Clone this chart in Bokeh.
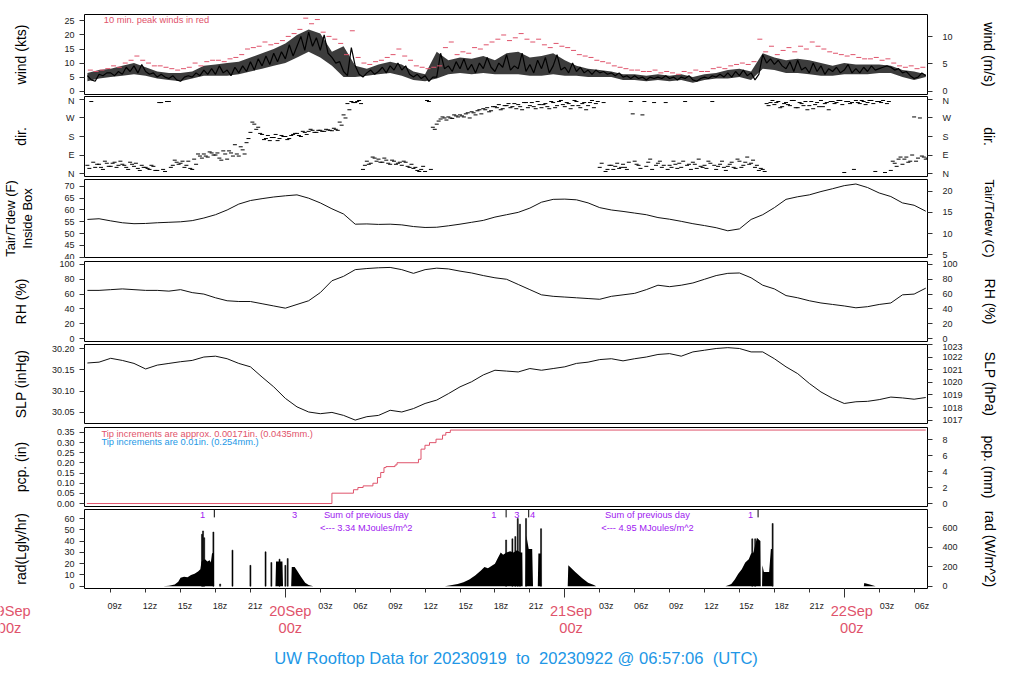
import numpy as np
from bokeh.plotting import figure
from bokeh.models import Range1d, LinearAxis, FixedTicker, PrintfTickFormatter
from bokeh.layouts import column
from bokeh.embed import file_html
from bokeh.resources import INLINE
from bokeh.core.properties import value

FONT = "Liberation Sans"
RED = "#DF536B"
BLUE = "#2297E6"
PURPLE = "#A020F0"

# ---------------- data (time = hours since 2023-09-19 00z) ----------------
# wind speed (kts), every 20 min from 07z 19Sep
wind_kts = [
    5.5, 4.0, 3.5,   6.0, 5.5, 6.5,   6.5, 5.5, 7.0,   6.0, 8.5, 7.0,
    9.0, 6.5, 9.5,   7.0, 6.0, 6.5,   5.0, 6.0, 5.0,   4.5, 5.5, 4.0,
    3.5, 5.0, 5.5,   5.0, 6.5, 5.5,   7.5, 6.0, 8.0,   6.0, 9.0, 6.5,
    7.5, 5.5, 8.5,   6.5, 9.0, 7.0,   10.5, 7.5, 11.5, 9.0, 12.5, 9.5,
    13.5, 10.5, 14.0, 11.5, 16.5, 12.5, 16.0, 19.5, 14.5, 21.0, 16.0, 19.0,
    14.5, 20.0, 13.5, 12.0, 10.0, 10.5, 7.0, 5.5, 15.5, 9.0, 6.0, 5.0,
    6.5, 7.5, 6.0,   7.0, 8.5, 6.5,   9.0, 7.5, 10.0,  7.5, 9.0, 6.0,
    5.0, 6.0, 4.5,   5.5, 3.5, 5.0,   5.0, 13.5, 8.0,  9.0, 7.0, 10.5,
    8.0, 11.5, 7.5,  9.5, 6.5, 10.0,  8.0, 12.0, 8.5,  7.0, 10.0, 8.5,
    13.0, 7.5, 9.0,  8.0, 13.5, 7.0,  9.5, 6.5, 11.0,  8.0, 12.0, 6.5,
    9.0, 13.0, 7.5,  8.5, 6.5, 10.0,  7.0, 8.5, 6.5,   7.5, 6.0, 7.5,
    6.5, 7.0, 6.0,   6.5, 5.5, 6.5,   5.0, 5.5, 4.5,   5.5, 4.5, 5.0,
    4.0, 5.0, 4.5,   5.0, 4.5, 5.5,   4.5, 5.0, 4.0,   5.0, 4.5, 5.5,
    4.0, 3.5, 4.5,   5.0, 4.5, 5.5,   5.0, 6.0, 5.0,   6.5, 5.0, 7.0,
    5.5, 7.5, 5.5,   6.5, 4.0, 6.0,   13.0, 10.0, 11.5, 9.5, 11.0, 9.0,
    8.0, 10.5, 7.0,  11.0, 7.5, 8.5,  6.5, 10.0, 7.0,  9.0, 6.0, 8.0,
    7.0, 8.5, 6.5,   7.5, 9.5, 6.5,   8.0, 6.5, 8.5,   7.0, 9.0, 7.5,
    8.0, 8.5, 9.0,   8.5, 7.5, 8.0,   6.5, 7.0, 5.5,   4.5, 5.0, 6.5,
    5.5,
]
# hourly envelope of the 1-min wind trace (kts), 07z 19Sep .. 07z 22Sep
wind_lo_kts = [
    3.5, 4.5, 5.0, 5.5, 6.0, 5.5, 4.5, 4.0, 3.5, 4.5, 5.5, 5.5,
    5.5, 6.0, 7.0, 8.0, 9.0, 10.0, 12.0, 14.0, 12.0, 9.0, 5.0, 5.0,
    5.5, 6.0, 6.5, 5.5, 4.0, 3.5, 4.5, 6.0, 6.5, 6.0, 6.5, 6.0,
    6.0, 6.0, 5.5, 5.5, 6.0, 5.5, 5.5, 5.0, 5.0, 5.0, 4.0, 4.0,
    3.5, 4.0, 3.5, 4.0, 3.0, 4.0, 4.5, 4.5, 5.0, 4.0, 8.0, 7.5,
    6.5, 6.5, 6.0, 5.5, 5.5, 6.0, 6.0, 6.0, 6.5, 6.5, 5.0, 4.0,
    5.0,
]
wind_hi_kts = [
    6.5, 7.5, 8.0, 9.0, 10.0, 8.5, 7.0, 6.5, 6.5, 7.0, 9.0, 9.5,
    10.0, 10.5, 12.0, 13.5, 15.0, 17.0, 20.0, 22.0, 20.5, 14.0, 16.0, 9.0,
    8.0, 9.5, 10.5, 9.5, 7.0, 6.0, 14.0, 11.0, 12.0, 11.5, 12.5, 11.0,
    13.5, 14.0, 12.0, 12.5, 13.5, 11.0, 9.0, 8.0, 7.5, 7.0, 6.0, 6.0,
    5.5, 6.0, 5.5, 6.0, 5.0, 6.0, 6.5, 7.5, 8.0, 7.0, 13.5, 12.0,
    11.0, 11.5, 11.0, 10.0, 9.0, 10.0, 9.5, 9.5, 9.5, 9.0, 7.5, 7.0,
    6.0,
]
# 10-min peak winds (kts), every 30 min from 07:15z
gust_kts = [
    7.5, 7.0, 7.5, 8.0, 9.0, 8.5, 10.0, 11.0, 12.5, 11.0, 10.0, 9.0,
    9.0, 8.5, 8.0, 7.5, 8.0, 8.5, 10.0, 9.0, 10.5, 11.0, 11.0, 10.5,
    11.5, 12.0, 13.0, 15.0, 15.5, 16.0, 17.5, 16.5, 17.0, 18.0, 19.5, 20.5,
    22.0, 26.0, 24.0, 25.5, 21.0, 19.5, 18.5, 17.0, 13.0, 21.5, 12.0, 10.0,
    9.5, 10.5, 11.0, 12.0, 13.0, 15.0, 12.5, 11.0, 9.0, 8.5, 8.0, 8.5,
    9.0, 15.5, 17.5, 13.0, 14.0, 13.5, 15.5, 15.0, 16.5, 17.5, 18.5, 20.0,
    18.0, 19.0, 20.5, 18.5, 17.5, 18.5, 16.5, 15.5, 17.0, 16.0, 15.5, 14.5,
    13.0, 12.5, 12.0, 11.0, 10.5, 10.0, 9.0, 8.5, 8.0, 7.5, 7.5, 7.0,
    7.0, 7.5, 6.5, 7.0, 6.5, 6.0, 7.0, 6.5, 7.5, 7.0, 7.0, 8.0,
    8.5, 8.0, 9.0, 9.5, 10.0, 9.5, 10.5, 18.5, 14.0, 16.0, 13.0, 14.5,
    15.5, 14.0, 16.0, 15.0, 17.5, 16.0, 15.0, 14.0, 13.5, 13.0, 12.5, 13.0,
    12.0, 11.5, 11.5, 12.0, 11.0, 11.5, 10.0, 9.0, 8.5, 9.0, 8.0, 8.5,
]
# wind direction (deg), every 20 min from 07z
wind_dir = [
    40, 350, 30,   45, 20, 50,    35, 55, 40,    45, 30, 55,
    35, 25, 40,    30, 20, 35,    15, 345, 10,   350, 40, 55,
    50, 30, 60,    20, 45, 85,    95, 80, 100,   90, 75, 110,
    70, 100, 140,  85, 115, 150,  200, 240, 225, 190, 170, 160,
    175, 160, 185, 180, 170, 190, 195, 180, 200, 205, 210, 200,
    210, 205, 212, 208, 215, 250, 285, 340, 350, 345, 355, 20,
    60, 50, 75,    70, 55, 65,    45, 60, 50,    40, 55, 30,
    25, 15, 20,    10, 350, 225,  240, 265, 270, 275, 268, 280,
    285, 275, 295, 300, 285, 310, 315, 320, 305, 325, 335, 315,
    330, 320, 340, 335, 310, 345, 330, 325, 350, 320, 340, 315,
    345, 330, 355, 325, 340, 330, 350, 320, 345, 330, 355, 340,
    30, 345, 20,   40, 35, 25,    45, 20, 350,   60, 40, 285,
    35, 70, 345,   50, 30, 345,   40, 60, 25,    30, 350, 45,
    55, 25, 35,    40, 60, 350,   20, 45, 30,    35, 55, 25,
    60, 40, 80,    50, 30, 15,    20, 340, 345,  335, 350, 325,
    345, 330, 355, 320, 340, 350, 330, 315, 345, 355, 340, 310,
    350, 345, 355, 5, 350, 345,   355, 340, 350, 345, 355, 10,
    350, 355, 340, 15, 50, 70,    45, 80, 60,    275, 75, 85,
    70,
]
# second set of direction readings, every 20 min from 07:10z
wind_dir_b = [
    25, 55, 45,    30, 60, 35,    50, 30, 60,    40, 20, 45,
    50, 15, 30,    25, 40, 15,    345, 20, 350,  30, 65, 45,
    60, 40, 25,    70, 95, 75,    85, 105, 90,   100, 65, 95,
    110, 85, 95,   130, 95, 170,  250, 215, 195, 165, 185, 175,
    190, 170, 180, 165, 185, 195, 185, 205, 190, 215, 200, 210,
    205, 215, 210, 220, 210, 235, 270, 310, 345, 350, 340, 40,
    45, 80, 60,    55, 75, 50,    65, 45, 55,    60, 35, 45,
    30, 10, 35,    355, 20, 215,  255, 275, 260, 270, 285, 275,
    280, 290, 270, 295, 305, 290, 310, 300, 325, 320, 310, 330,
    340, 325, 315, 325, 345, 320, 345, 315, 335, 335, 325, 350,
    320, 350, 335, 345, 315, 355, 330, 340, 310, 345, 320, 350,
    50, 10, 40,    20, 50, 30,    30, 55, 290,   45, 25, 350,
    55, 20, 40,    60, 40, 20,    30, 45, 50,    60, 40, 20,
    45, 70, 30,    25, 50, 40,    35, 60, 15,    45, 30, 70,
    30, 55, 45,    65, 40, 25,    10, 330, 355,  345, 320, 340,
    335, 355, 320, 345, 330, 310, 350, 335, 325, 325, 345, 350,
    340, 355, 335, 350, 340, 20,  345, 355, 335, 355, 340, 350,
    345, 5, 350,   60, 35, 80,    70, 55, 90,    60, 270, 80,
    75,
]
# hourly values from 07z 19Sep to 07z 22Sep
temp_f = [
    56.0, 56.3, 55.4, 54.6, 54.2, 54.3,
    54.6, 54.8, 55.0, 55.5, 56.6, 58.0,
    60.0, 62.5, 64.0, 64.8, 65.5, 66.0,
    66.4, 65.0, 63.0, 60.5, 58.3, 54.0,
    54.1, 53.9, 54.0, 53.7, 53.0, 52.6,
    52.7, 53.3, 54.0, 54.8, 55.6, 57.0,
    58.0, 59.0, 60.8, 63.3, 64.5, 64.6,
    64.3, 63.0, 61.0, 60.0, 59.4, 58.7,
    58.0, 56.8, 56.1, 55.2, 54.2, 53.4,
    52.5, 51.2, 52.0, 56.0, 58.0, 61.0,
    64.5, 65.6, 66.4, 67.8, 69.0, 70.3,
    71.0, 69.5, 67.2, 65.7, 63.0, 62.0,
    59.5,
]
rh_pct = [
    65, 65, 66, 67, 66, 65,
    65, 64, 66, 62, 60, 55,
    51, 50, 50, 47, 44, 41,
    46, 51, 62, 78, 84, 93,
    94.5, 95.5, 96, 93, 88, 93,
    95, 94, 91, 88.5, 85, 82,
    80, 73, 66, 59, 57, 56,
    55, 54, 53, 57, 59, 61,
    66, 72, 70, 72, 75, 80,
    85, 88, 88.5, 82, 72, 67,
    58, 55, 51, 48, 46, 44,
    41.5, 43, 46, 48, 59, 60,
    68,
]
slp_inhg = [
    30.166, 30.168, 30.177, 30.172, 30.165, 30.152,
    30.161, 30.165, 30.169, 30.172, 30.180, 30.182,
    30.176, 30.165, 30.157, 30.133, 30.110, 30.083,
    30.063, 30.051, 30.047, 30.050, 30.043, 30.032,
    30.040, 30.043, 30.055, 30.051, 30.059, 30.071,
    30.079, 30.094, 30.110, 30.122, 30.138, 30.149,
    30.147, 30.145, 30.153, 30.149, 30.153, 30.157,
    30.165, 30.168, 30.174, 30.176, 30.171, 30.176,
    30.180, 30.186, 30.188, 30.182, 30.192, 30.196,
    30.200, 30.202, 30.200, 30.192, 30.192, 30.176,
    30.157, 30.141, 30.118, 30.098, 30.083, 30.071,
    30.075, 30.076, 30.080, 30.086, 30.084, 30.081,
    30.085,
]
# accumulated precipitation (hour, inches)
pcp_points = [
    (6.95, 0.0), (28.0, 0.051), (29.85, 0.068), (30.23, 0.079), (30.68, 0.087),
    (31.52, 0.10), (31.91, 0.128), (32.19, 0.153), (32.47, 0.177), (32.64, 0.182),
    (33.42, 0.19), (33.59, 0.201), (35.43, 0.218), (35.65, 0.268), (35.99, 0.287),
    (36.38, 0.30), (36.94, 0.317), (37.5, 0.337), (37.78, 0.35), (38.17, 0.362),
    (79.0, 0.362),
]
# solar radiation (hour, Langley/hr): broad parts
rad_points = [
    (13.5, 0), (14.0, 0.5), (14.5, 1.5), (14.8, 4), (15.0, 7.5), (15.3, 8.5),
    (15.6, 8), (15.9, 10), (16.2, 11), (16.5, 13), (16.7, 15), (16.8, 22),
    (17.1, 24), (17.3, 22), (17.5, 23), (17.6, 21), (17.7, 29), (17.85, 30),
    (17.88, 0),
    (23.15, 0), (23.2, 22), (23.75, 22), (23.8, 0), (24.5, 0), (24.55, 17),
    (24.8, 17), (25.0, 14), (25.3, 9), (25.7, 3), (26.0, 1), (26.4, 0),
    (37.7, 0), (38.2, 0.8), (38.8, 2), (39.3, 3.5), (39.8, 6), (40.3, 9.5),
    (40.8, 14), (41.1, 17), (41.4, 16), (41.7, 18), (42.0, 20), (42.25, 25),
    (42.5, 30), (42.7, 28), (43.0, 30), (43.3, 31), (43.6, 30), (43.9, 32),
    (44.2, 30), (44.35, 30), (44.38, 0), (44.62, 0), (44.7, 45), (44.9, 33),
    (45.2, 33), (45.27, 0), (45.68, 0), (45.73, 29), (45.95, 29), (45.98, 0),
    (48.25, 0), (48.3, 18.5), (48.9, 12.7), (49.5, 7), (50.0, 3), (50.5, 1),
    (50.7, 0),
    (61.8, 0), (62.1, 1), (62.3, 2), (62.6, 6), (62.9, 11), (63.2, 15),
    (63.5, 21), (63.8, 24), (64.0, 29), (64.2, 30), (64.5, 43), (64.7, 41),
    (64.8, 40), (64.83, 0), (64.94, 0), (64.97, 18.5), (65.1, 12.7),
    (65.55, 12.7), (65.7, 33), (65.8, 33), (65.83, 0),
    (73.68, 0), (73.72, 2.8), (74.2, 1.5), (74.7, 0),
]
# solar radiation: narrow spikes (hour, Langley/hr)
rad_spikes = [
    (16.84, 46), (16.93, 49), (17.03, 43), (17.82, 48), (18.4, 2), (19.46, 32),
    (21.0, 18.5), (22.3, 30.5), (22.8, 21), (23.5, 24), (24.0, 18.5),
    (24.2, 24.5), (42.96, 41), (43.5, 42), (43.75, 44), (43.96, 60),
    (44.15, 55), (44.67, 60), (45.96, 51), (64.1, 42), (64.35, 42),
    (65.85, 55.6),
]
rad_note_hours = [16.9, 24.8, 41.9, 43.87, 45.24, 63.96]
rad_note_text = ["1", "3", "1", "3", "4", "1"]
rad_mark_hours = [17.9, 42.96, 44.9, 64.6]
daily_sum_hours = [30.95, 55.1]
daily_sum_text = ["<--- 3.34 MJoules/m^2", "<--- 4.95 MJoules/m^2"]

tick_hours = [9, 12, 15, 18, 21, 24, 27, 30, 33, 36, 39, 42, 45, 48,
              51, 54, 57, 60, 63, 66, 69, 72, 75, 78]
tick_labels = ["09z", "12z", "15z", "18z", "21z", "", "03z", "06z", "09z",
               "12z", "15z", "18z", "21z", "", "03z", "06z", "09z", "12z",
               "15z", "18z", "21z", "", "03z", "06z"]
day_hours = [0, 24, 48, 72]
day_labels = ["19Sep", "20Sep", "21Sep", "22Sep"]
NB2 = "\u00a0 "
title_text = ("UW Rooftop Data for 20230919" + NB2 + "to" + NB2 + "20230922 @ 06:57:06"
              + NB2 + "(UTC)")

# ---------------- derived time axes ----------------
t_wind = 7 + np.arange(len(wind_kts)) / 3.0
t_band = 7 + np.arange(len(wind_lo_kts))
t_gust = 7.25 + np.arange(len(gust_kts)) * 0.5
t_dir = 7 + np.arange(len(wind_dir)) / 3.0
t_dir_b = 7 + 1.0 / 6 + np.arange(len(wind_dir_b)) / 3.0
t_hr = 7 + np.arange(len(temp_f))
pcp_t = [a for a, b in pcp_points]
pcp_v = [b for a, b in pcp_points]
rad_t = [a for a, b in rad_points]
rad_v = [b for a, b in rad_points]
spk_t = [a for a, b in rad_spikes]
spk_v = [b for a, b in rad_spikes]

W = 1008
LEFT, RIGHT = 80, 81
xr = Range1d(6.75, 79.15)


def style_axis(ax, ticks, label, label_standoff, tick_standoff, fmt=None,
               overrides=None, label_size="14px"):
    ax.ticker = FixedTicker(ticks=ticks)
    ax.axis_label = label
    ax.axis_label_standoff = label_standoff
    ax.axis_label_text_font = FONT
    ax.axis_label_text_font_size = label_size
    ax.axis_label_text_font_style = "normal"
    ax.axis_label_text_color = "black"
    ax.major_label_text_font = FONT
    ax.major_label_text_font_size = "9px"
    ax.major_label_text_color = "#222222"
    ax.major_label_standoff = tick_standoff
    ax.major_tick_out = 5
    ax.major_tick_in = 0
    ax.minor_tick_out = 0
    ax.minor_tick_in = 0
    ax.axis_line_color = None
    ax.major_tick_line_color = "#333333"
    if fmt:
        ax.formatter = PrintfTickFormatter(format=fmt)
    if overrides:
        ax.major_label_overrides = overrides


def panel(height, top, bottom, yr, yr_right, x_axis=False):
    p = figure(width=W, height=height, x_range=xr, y_range=Range1d(*yr),
               output_backend="svg", toolbar_location=None,
               x_axis_location="below" if x_axis else None,
               min_border_left=LEFT, min_border_right=RIGHT,
               min_border_top=top, min_border_bottom=bottom)
    p.grid.visible = False
    p.outline_line_color = "black"
    p.outline_line_width = 1
    p.outline_line_alpha = 1
    p.background_fill_color = "white"
    p.border_fill_color = "white"
    p.extra_y_ranges = {"r": Range1d(*yr_right)}
    ax = LinearAxis(y_range_name="r")
    p.add_layout(ax, "right")
    return p, p.left[0], ax


KT2MS = 0.514444
# ---- wind ----
wy = (-1.2, 27.3)
p1, l1, r1 = panel(95, 14, 1, wy, (wy[0] * KT2MS, wy[1] * KT2MS))
style_axis(l1, [0, 5, 10, 15, 20, 25], "wind (kts)", 32, 5)
style_axis(r1, [0, 5, 10], "wind (m/s)", 25, 10)
p1.varea(x=t_band, y1=wind_lo_kts, y2=wind_hi_kts, fill_color="#111111", fill_alpha=0.82)
p1.line(t_wind, wind_kts, color="black", line_width=1.2)
p1.scatter(t_gust, gust_kts, marker="dash", size=5, line_color=RED, line_width=1)
p1.text(x=[8.4], y=[25.2], text=["10 min. peak winds in red"], text_color=RED,
        text_font=value(FONT), text_font_size="9.3px", text_align="left",
        text_baseline="middle")

# ---- direction ----
compass = {0: "N", 90: "E", 180: "S", 270: "W", 360: "N"}
p2, l2, r2 = panel(83, 1, 2, (-14.4, 374.4), (-14.4, 374.4))
style_axis(l2, [0, 90, 180, 270, 360], "dir.", 34, 5, overrides=compass)
style_axis(r2, [0, 90, 180, 270, 360], "dir.", 27, 10, overrides=compass)
p2.scatter(t_dir, wind_dir, marker="dash", size=4, line_color="black", line_width=1)
p2.scatter(t_dir_b, wind_dir_b, marker="dash", size=4, line_color="black", line_width=1)

# ---- temperature ----
ty = (39.9, 72.9)
p3, l3, r3 = panel(81, 1, 2, ty, ((ty[0] - 32) / 1.8, (ty[1] - 32) / 1.8))
style_axis(l3, [40, 45, 50, 55, 60, 65, 70], "Tair/Tdew (F)\nInside Box", 26, 5,
           label_size="13px")
l3.axis_label_text_line_height = 1.15
style_axis(r3, [5, 10, 15, 20], "Tair/Tdew (C)", 26, 10, label_size="13px")
p3.line(t_hr, temp_f, color="#111111", line_width=1)

# ---- RH ----
p4, l4, r4 = panel(84, 2, 2, (-4, 104), (-4, 104))
style_axis(l4, [0, 20, 40, 60, 80, 100], "RH (%)", 27, 5)
style_axis(r4, [0, 20, 40, 60, 80, 100], "RH (%)", 21, 10)
p4.line(t_hr, rh_pct, color="#111111", line_width=1)

# ---- SLP ----
sy = (30.024, 30.2094)
p5, l5, r5 = panel(82, 1, 2, sy, (sy[0] * 33.8639, sy[1] * 33.8639))
style_axis(l5, [30.05, 30.10, 30.15, 30.20], "SLP (inHg)", 20, 5, fmt="%.2f")
style_axis(r5, [1017, 1018, 1019, 1020, 1021, 1022, 1023], "SLP (hPa)", 16, 10)
p5.line(t_hr, slp_inhg, color="#111111", line_width=1)

# ---- precipitation ----
py = (-0.0146, 0.3746)
p6, l6, r6 = panel(83, 2, 2, py, (py[0] * 25.4, py[1] * 25.4))
style_axis(l6, [0, 0.05, 0.10, 0.15, 0.20, 0.25, 0.30, 0.35], "pcp. (in)", 25, 5, fmt="%.2f")
style_axis(r6, [0, 2, 4, 6, 8], "pcp. (mm)", 30, 10)
p6.step(pcp_t, pcp_v, mode="after", color=RED, line_width=1)
p6.text(x=[8.2], y=[0.345], text=["Tip increments are approx. 0.00171in. (0.0435mm.)"],
        text_color=RED, text_font=value(FONT), text_font_size="9.3px",
        text_align="left", text_baseline="middle")
p6.text(x=[8.2], y=[0.301], text=["Tip increments are 0.01in. (0.254mm.)"],
        text_color=BLUE, text_font=value(FONT), text_font_size="9.3px",
        text_align="left", text_baseline="middle")

# ---- radiation ----
LY2W = 11.622
ry = (-2.0, 68.0)
p7, l7, r7 = panel(92, 1, 12, ry, (ry[0] * LY2W, ry[1] * LY2W), x_axis=True)
style_axis(l7, [0, 10, 20, 30, 40, 50, 60], "rad(Lgly/hr)", 32, 5)
style_axis(r7, [0, 200, 400, 600], "rad (W/m^2)", 21, 10)
p7.varea(x=rad_t, y1=0, y2=rad_v, fill_color="black")
p7.vbar(x=spk_t, top=spk_v, bottom=0, width=0.09, fill_color="black", line_color="black",
        line_width=0.5)
p7.segment(x0=rad_mark_hours, y0=61, x1=rad_mark_hours, y1=68, line_color="black", line_width=1)
p7.text(x=rad_note_hours, y=[62.7] * len(rad_note_hours), text=rad_note_text,
        text_color=PURPLE, text_font=value(FONT), text_font_size="9.3px",
        text_align="center", text_baseline="middle")
p7.text(x=daily_sum_hours, y=[62.7] * 2, text=["Sum of previous day"] * 2,
        text_color=PURPLE, text_font=value(FONT), text_font_size="9.3px",
        text_align="center", text_baseline="middle")
p7.text(x=daily_sum_hours, y=[52.0] * 2, text=daily_sum_text,
        text_color=PURPLE, text_font=value(FONT), text_font_size="9.3px",
        text_align="center", text_baseline="middle")

xa = p7.below[0]
xa.ticker = FixedTicker(ticks=tick_hours, minor_ticks=day_hours)
xa.major_label_overrides = {h: "" for h in tick_hours}
xa.major_label_text_font_size = "1px"
xa.major_label_standoff = 0
xa.major_tick_out = 4
xa.major_tick_in = 0
xa.minor_tick_out = 9
xa.minor_tick_in = 0
xa.axis_line_color = None
xa.major_tick_line_color = "#333333"
xa.minor_tick_line_color = "#333333"

# ---- time labels and title strip (separate root on the same time scale) ----
SHIFT = 8  # this root sits 8px further left on the page than the panel column
px_per_h = (W - LEFT - RIGHT) / (xr.end - xr.start)
xr_strip = Range1d(xr.start - (LEFT + SHIFT) / px_per_h,
                   xr.end + (RIGHT - SHIFT) / px_per_h)
p8 = figure(width=W, height=80, x_range=xr_strip, y_range=Range1d(80, 0),
            output_backend="svg", toolbar_location=None,
            x_axis_location=None, y_axis_location=None,
            min_border_left=0, min_border_right=0, min_border_top=0, min_border_bottom=0)
p8.grid.visible = False
p8.outline_line_color = None
p8.background_fill_color = "white"
p8.border_fill_color = "white"
lab_h = [h for h, t in zip(tick_hours, tick_labels) if t]
lab_t = [t for t in tick_labels if t]
p8.text(x=lab_h, y=[5.7] * len(lab_h), text=lab_t, text_color="#222222",
        text_font=value(FONT), text_font_size="9px", text_align="center",
        text_baseline="middle")
p8.text(x=day_hours, y=[10.5] * len(day_hours), text=day_labels, text_color=RED,
        text_font=value(FONT), text_font_size="14.6px", text_align="center",
        text_baseline="middle")
p8.text(x=day_hours, y=[27.5] * len(day_hours), text=["00z"] * len(day_hours),
        text_color=RED, text_font=value(FONT), text_font_size="14.6px",
        text_align="center", text_baseline="middle")
p8.text(x=[43.3], y=[58], text=[title_text], text_color=BLUE,
        text_font=value(FONT), text_font_size="16.6px", text_align="center",
        text_baseline="middle")

layout = column(p1, p2, p3, p4, p5, p6, p7, spacing=0)
open("out.html", "w").write(file_html([layout, p8], INLINE, title="UW Rooftop Data"))
